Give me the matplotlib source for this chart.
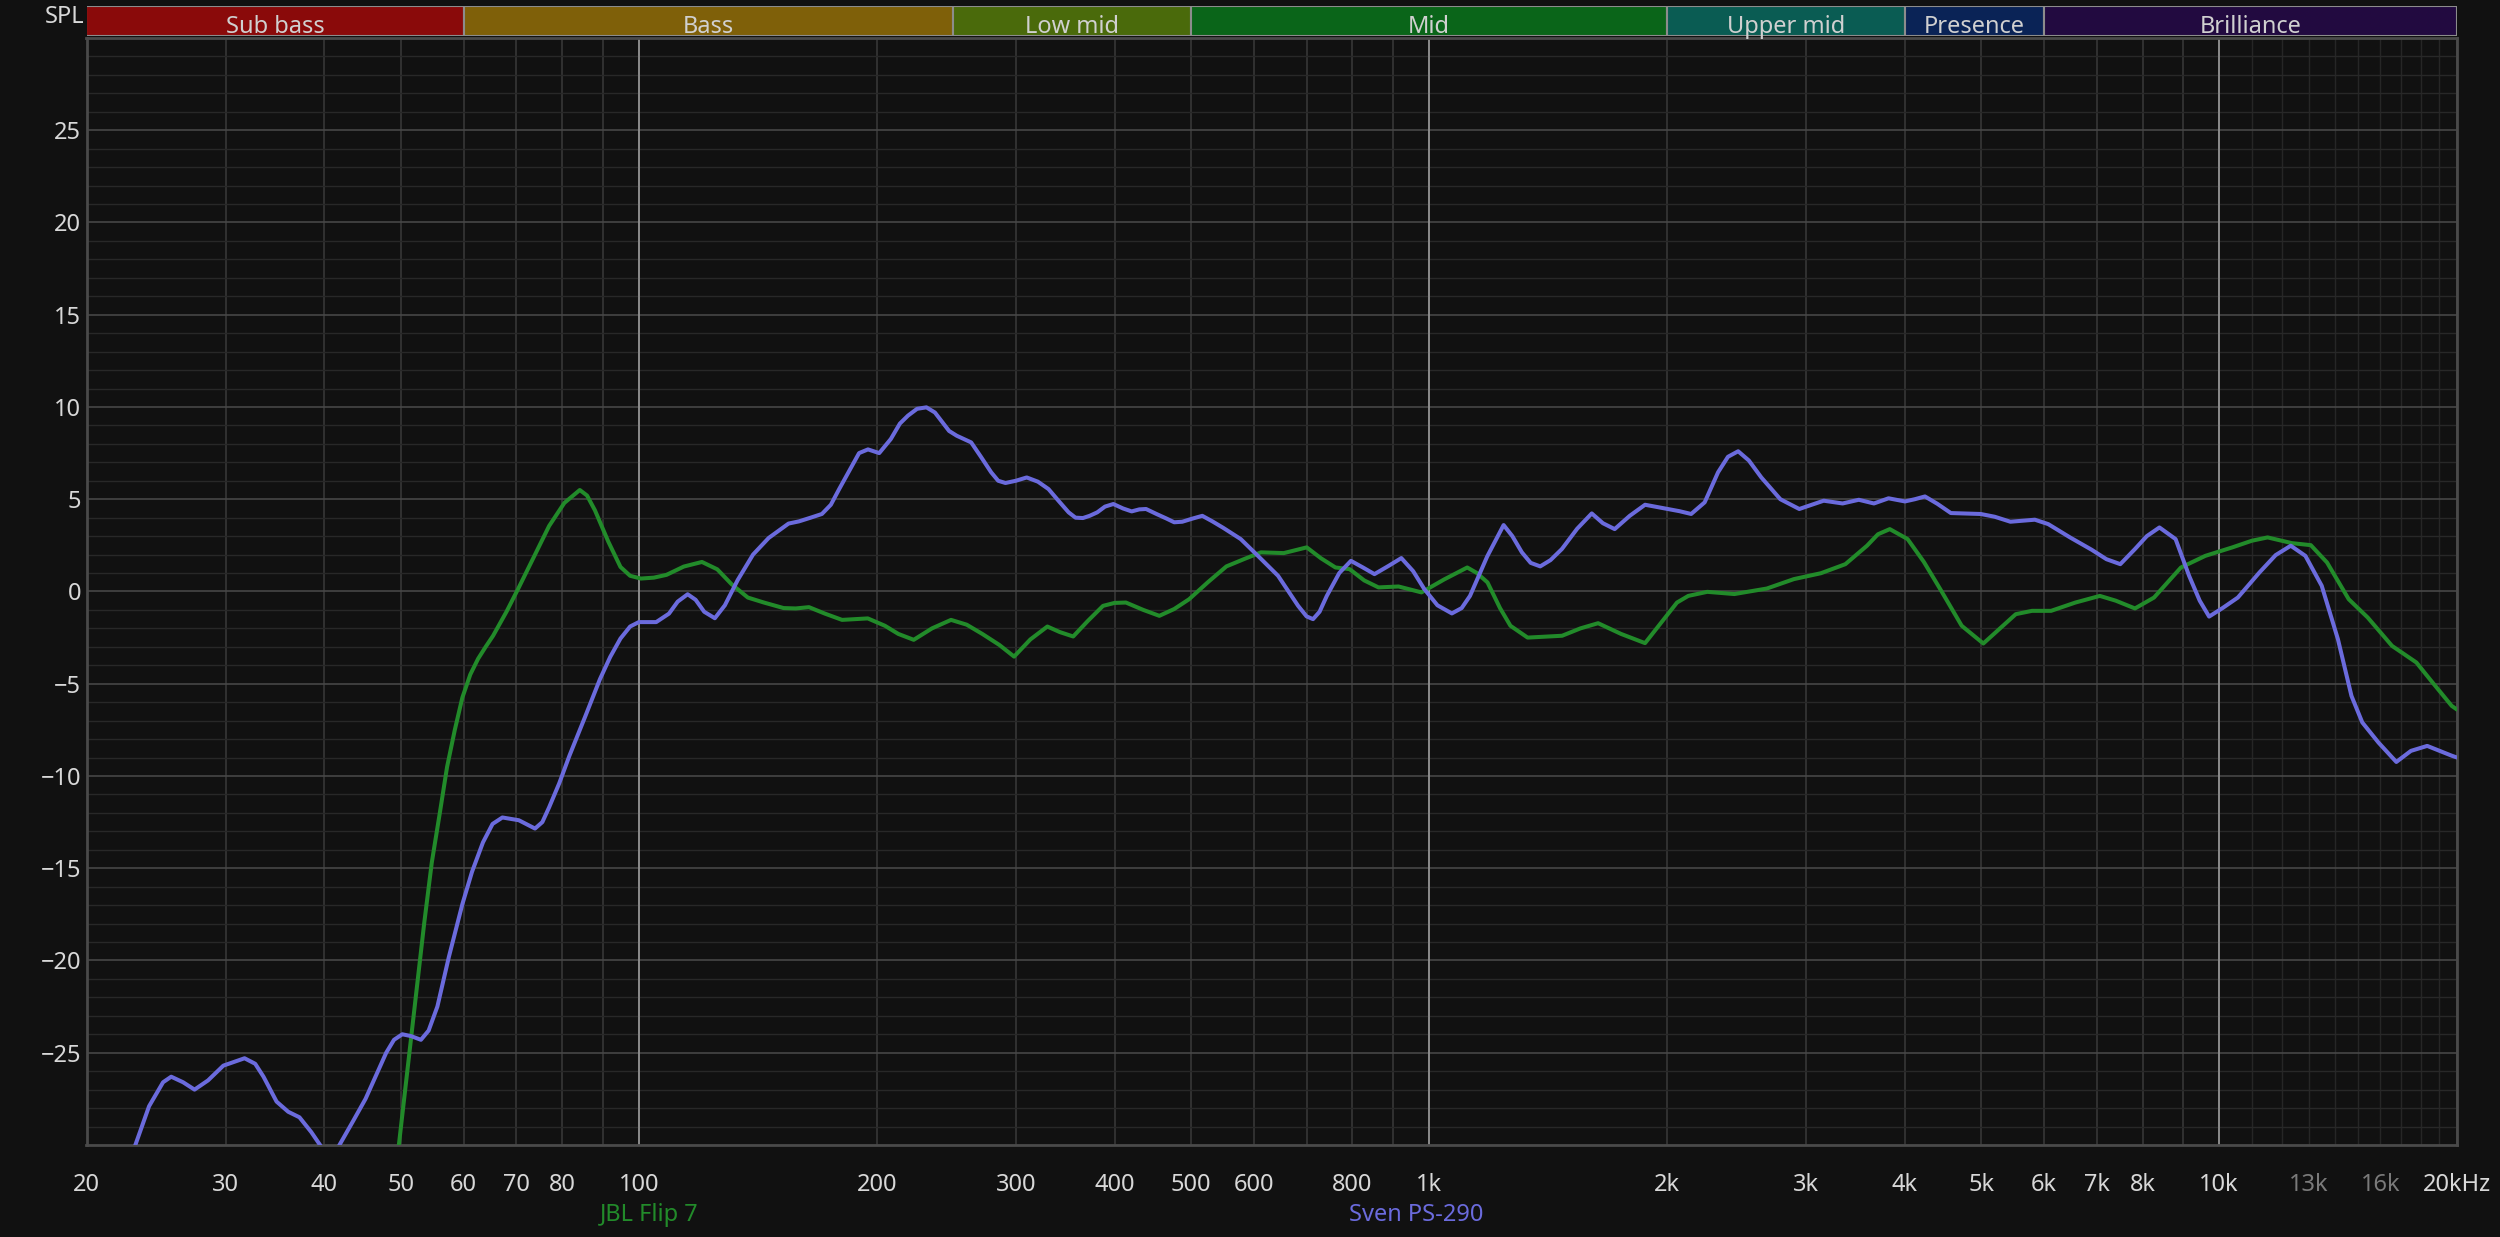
import numpy as np
import matplotlib
matplotlib.use("Agg")
import matplotlib.pyplot as plt
from matplotlib.ticker import FixedLocator, LogLocator, MultipleLocator, NullFormatter

plt.rcParams['font.family'] = ['Noto Sans', 'DejaVu Sans']

# Sven PS-290 (purple), Hz / dB
sven_f = [22.6, 23.06, 24.0, 25.0, 25.6, 26.5, 27.4, 28.5, 29.8, 31.7, 32.7, 33.5, 34.8, 36.0, 37.2,
          38.5, 39.5, 40.6, 41.8, 43.5, 45.1, 47.9, 49.0, 50.2, 51.5, 53.0, 54.2, 55.6, 57.5, 59.8,
          61.5, 63.5, 65.3, 67.2, 70.5, 73.9, 75.5, 77.0, 79.3, 81.7, 85.5, 89.3, 92.0, 94.8, 97.5,
          100, 105.2, 109.2, 112, 115.3, 118, 121, 124.8, 128.5, 133.4, 139.5, 146, 154.7, 159.5,
          165, 170.5, 175, 179.3, 185, 190, 195, 201.5, 208.4, 214, 219.1, 225, 231.2, 237, 242.3,
          247, 252.6, 263.4, 271, 279.2, 285, 291.1, 300, 309.7, 320, 330, 340, 349.9, 357, 364.8,
          372, 380.4, 389, 398.6, 410, 420.5, 430, 438.5, 452, 465, 476, 487.3, 502, 516.6, 532,
          549.5, 577.8, 607.5, 644.2, 683, 700, 713.3, 727, 742.5, 770, 796.6, 825, 853.1, 890,
          922.6, 955, 986.5, 1025, 1069, 1100, 1127, 1185, 1243, 1275, 1311, 1345, 1383, 1425,
          1473, 1540, 1607, 1660, 1718, 1795, 1877, 1960, 2076, 2147, 2233, 2322, 2390, 2462, 2540,
          2634, 2784, 2942, 3050, 3159, 3338, 3499, 3657, 3816, 4003, 4120, 4243, 4400, 4576, 4992,
          5200, 5443, 5845, 6078, 6476, 6898, 7200, 7498, 7825, 8100, 8403, 8808, 9162, 9450, 9712,
          10100, 10560, 11246, 11789, 12321, 12858, 13484, 14137, 14705, 15177, 15910, 16759,
          17487, 18336, 19692, 20000]
sven_db = [-31.5, -30.0, -27.9, -26.6, -26.3, -26.6, -27.0, -26.5, -25.7, -25.3, -25.6, -26.3, -27.65, -28.2, -28.5,
           -29.3, -30.0, -31.0, -30.0, -28.7, -27.5, -25.0, -24.3, -24.0, -24.1, -24.3, -23.8, -22.5, -19.8, -16.95,
           -15.2, -13.6, -12.6, -12.25, -12.4, -12.85, -12.5, -11.7, -10.4, -8.9, -6.8, -4.75, -3.55, -2.55, -1.9,
           -1.66, -1.66, -1.2, -0.55, -0.15, -0.45, -1.1, -1.45, -0.75, 0.62, 2.0, 2.9, 3.68, 3.8,
           4.0, 4.2, 4.7, 5.55, 6.6, 7.5, 7.7, 7.5, 8.26, 9.1, 9.53, 9.9, 9.98, 9.7, 9.17,
           8.7, 8.44, 8.08, 7.3, 6.46, 6.0, 5.88, 6.0, 6.18, 5.95, 5.55, 4.9, 4.29, 4.0, 3.98,
           4.1, 4.29, 4.6, 4.74, 4.5, 4.34, 4.45, 4.47, 4.2, 3.96, 3.75, 3.78, 3.95, 4.1, 3.8,
           3.44, 2.84, 1.93, 0.85, -0.78, -1.35, -1.5, -1.1, -0.24, 1.0, 1.66, 1.3, 0.94, 1.4,
           1.81, 1.1, 0.13, -0.75, -1.19, -0.9, -0.24, 1.9, 3.6, 3.0, 2.12, 1.55, 1.36, 1.7,
           2.3, 3.4, 4.23, 3.7, 3.38, 4.1, 4.7, 4.55, 4.35, 4.2, 4.83, 6.46, 7.3, 7.6, 7.1,
           6.18, 5.0, 4.47, 4.7, 4.92, 4.77, 4.97, 4.77, 5.05, 4.88, 5.0, 5.15, 4.75, 4.25, 4.2,
           4.05, 3.78, 3.89, 3.65, 2.93, 2.26, 1.75, 1.48, 2.3, 3.0, 3.47, 2.84, 0.85, -0.5, -1.36,
           -0.9, -0.33, 1.03, 1.97, 2.48, 1.93, 0.31, -2.59, -5.66, -7.1, -8.19, -9.24,
           -8.64, -8.37, -8.9, -9.0]

# JBL Flip 7 (green), Hz / dB
jbl_f = [49.0, 49.7, 51.0, 52.3, 53.5, 54.7, 56.0, 57.2, 58.5, 59.8, 61.2, 62.6, 64.0, 65.4, 68.0,
         70.5, 73.7, 77.0, 80.5, 84.2, 86.0, 88.0, 91.5, 94.8, 97.5, 100.6, 104.5, 108.4, 114, 120.2,
         125.7, 131, 137.4, 144, 152.5, 158, 164.2, 172, 180.8, 194.9, 204.9, 213, 222.8, 235, 248.4,
         260, 272.3, 286, 298.5, 313, 328.9, 341, 354.6, 370, 386.8, 400, 413.5, 435, 455.8, 476,
         497.1, 525, 554.2, 583, 612.8, 655.1, 700.3, 730, 761.5, 793.5, 828, 863.2, 915.2, 978.4,
         1045, 1118, 1150, 1186, 1230, 1268, 1333, 1400, 1474, 1555, 1637, 1750, 1877, 1983, 2060,
         2129, 2250, 2435, 2677, 2896, 3134, 3365, 3584, 3700, 3830, 4034, 4230, 4436, 4723, 5030,
         5250, 5529, 5797, 6128, 6578, 7064, 7400, 7825, 8271, 8947, 9605, 10393, 11000, 11517,
         12362, 13062, 13695, 14588, 15417, 16551, 17768, 18628, 19692, 20000]
jbl_db = [-32.0, -30.0, -25.8, -21.7, -18.0, -14.7, -12.0, -9.5, -7.5, -5.75, -4.5, -3.65, -3.0, -2.4, -1.1,
          0.22, 1.9, 3.55, 4.8, 5.5, 5.2, 4.4, 2.7, 1.33, 0.85, 0.7, 0.75, 0.9, 1.35, 1.6,
          1.2, 0.4, -0.33, -0.6, -0.9, -0.92, -0.85, -1.2, -1.54, -1.46, -1.86, -2.3, -2.62, -2.0, -1.54,
          -1.8, -2.31, -2.9, -3.53, -2.6, -1.9, -2.2, -2.44, -1.6, -0.78, -0.62, -0.6, -1.0, -1.32, -0.95,
          -0.42, 0.5, 1.36, 1.75, 2.12, 2.08, 2.39, 1.8, 1.3, 1.21, 0.6, 0.22, 0.27, -0.05,
          0.65, 1.3, 1.0, 0.49, -0.9, -1.86, -2.5, -2.45, -2.4, -2.0, -1.72, -2.3, -2.8, -1.5, -0.6,
          -0.24, -0.02, -0.14, 0.16, 0.67, 0.99, 1.48, 2.48, 3.1, 3.38, 2.84, 1.6, 0.13, -1.86, -2.82,
          -2.1, -1.23, -1.05, -1.05, -0.6, -0.24, -0.5, -0.92, -0.33, 1.3, 1.93, 2.39, 2.75, 2.93,
          2.62, 2.51, 1.57, -0.42, -1.41, -2.95, -3.85, -4.94, -6.2, -6.4]

# frequency bands on the top strip
band_names = ['Sub bass', 'Bass', 'Low mid', 'Mid', 'Upper mid', 'Presence', 'Brilliance']
band_edges = [20, 60, 250, 500, 2000, 4000, 6000, 20000]
band_colors = ['#8a0a0a', '#7f6009', '#4a6a0b', '#0a6519', '#0a5c53', '#0a2356', '#220a40']

x_ticks = [20, 30, 40, 50, 60, 70, 80, 100, 200, 300, 400, 500, 600, 800, 1000, 2000, 3000,
           4000, 5000, 6000, 7000, 8000, 10000, 13000, 16000, 20000]
x_labels = ['20', '30', '40', '50', '60', '70', '80', '100', '200', '300', '400', '500', '600',
            '800', '1k', '2k', '3k', '4k', '5k', '6k', '7k', '8k', '10k', '13k', '16k', '20kHz']
y_ticks = [-25, -20, -15, -10, -5, 0, 5, 10, 15, 20, 25]

bg = '#111111'
fig = plt.figure(figsize=(25, 12.37), dpi=100, facecolor=bg)
ax = fig.add_axes([0.0346, 0.0744, 0.9482, 0.8949])
ax.set_facecolor(bg)
ax.set_xscale('log')
ax.set_xlim(20, 20000)
ax.set_ylim(-30, 30)

ax.xaxis.set_major_locator(FixedLocator(x_ticks))
ax.set_xticklabels(x_labels)
ax.xaxis.set_minor_locator(LogLocator(base=10, subs=np.arange(1, 10)))
ax.xaxis.set_minor_formatter(NullFormatter())
ax.xaxis.remove_overlapping_locs = False
ax.set_yticks(y_ticks)
ax.yaxis.set_minor_locator(MultipleLocator(1))

ax.tick_params(which='both', length=0, colors='#d8d8d8', labelsize=17)
ax.tick_params(axis='x', pad=20)
ax.tick_params(axis='y', pad=4)
for lbl in ax.get_xticklabels():
    if lbl.get_text() in ('13k', '16k'):
        lbl.set_color('#7a7a7a')

ax.grid(which='minor', axis='x', color='#3a3a3a', lw=1.1)
ax.grid(which='major', axis='y', color='#474747', lw=1.2)
ax.grid(which='minor', axis='y', color='#282828', lw=1.0)
ax.set_axisbelow(True)
ax.vlines(np.arange(11000, 20000, 1000), -30, 30, color='#262626', lw=1.0, zorder=0.5)
ax.vlines([100, 1000, 10000], -30, 30, color='#9a9a9a', lw=1.2, zorder=1)

for s in ax.spines.values():
    s.set_color('#4a4a4a')
    s.set_linewidth(2)

ax.plot(jbl_f, jbl_db, color='#228b2a', lw=2.9, zorder=3, solid_capstyle='round', solid_joinstyle='round')
ax.plot(sven_f, sven_db, color='#6b6bdd', lw=2.9, zorder=4, solid_capstyle='round', solid_joinstyle='round')

# band strip
axb = fig.add_axes([0.0346, 0.9709, 0.9482, 0.0242])
axb.set_xscale('log')
axb.set_xlim(20, 20000)
axb.set_ylim(0, 1)
axb.axis('off')
for name, lo, hi, c in zip(band_names, band_edges[:-1], band_edges[1:], band_colors):
    axb.axvspan(lo, hi, facecolor=c, edgecolor='#8c8c8c', lw=1.5)
    axb.text(np.sqrt(lo * hi), 0.3, name, ha='center', va='center', color='#d0d0d0', fontsize=17)

fig.text(0.0336, 0.986, 'SPL', ha='right', va='center', color='#d8d8d8', fontsize=17)
fig.text(0.2596, 0.0178, 'JBL Flip 7', ha='center', va='center', color='#228b2a', fontsize=17)
fig.text(0.5666, 0.0178, 'Sven PS-290', ha='center', va='center', color='#6b6bdd', fontsize=17)

fig.savefig('out.png', dpi=100, facecolor=bg)
